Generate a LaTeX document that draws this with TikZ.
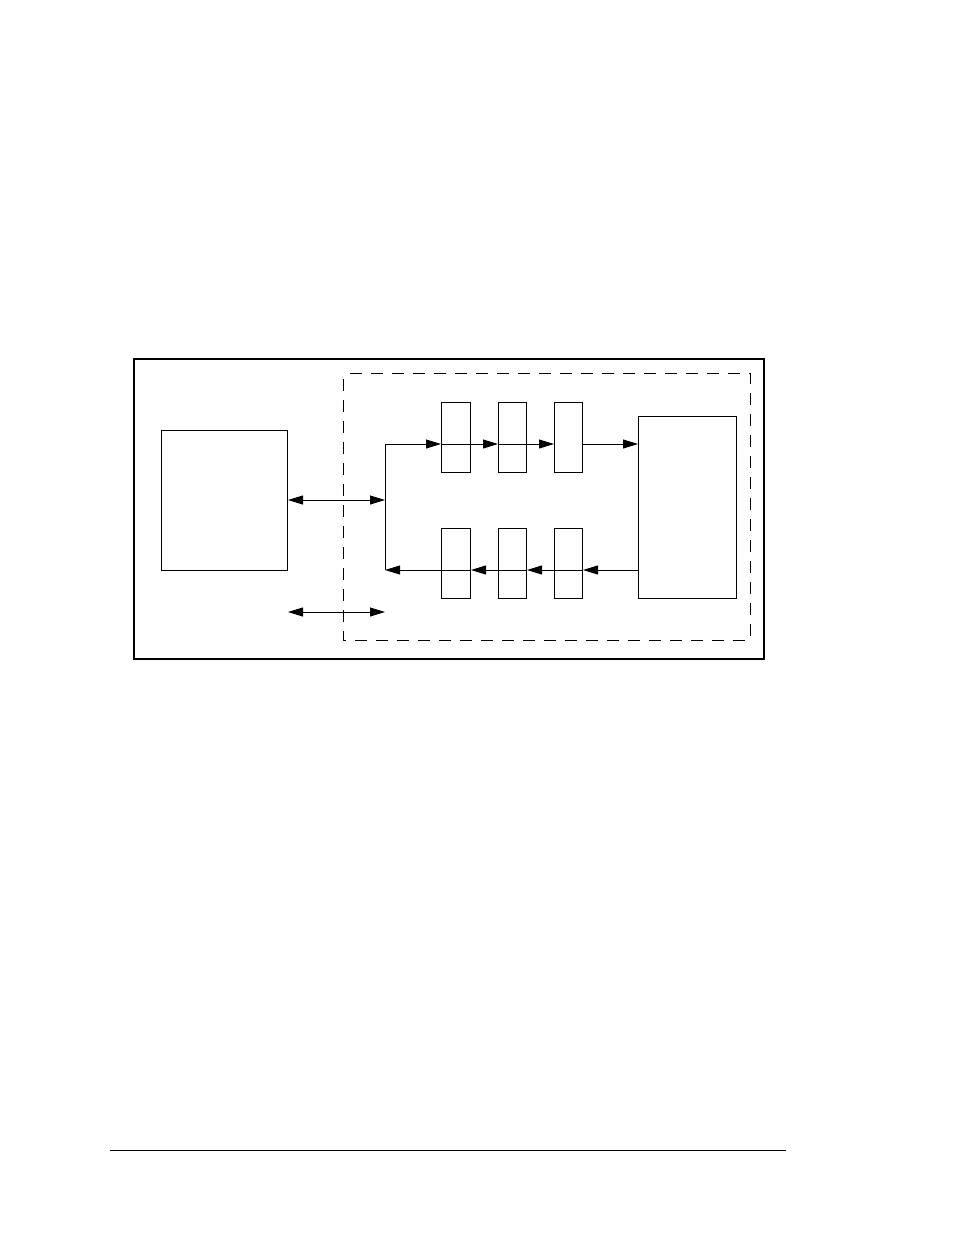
\documentclass[tikz,border=0pt]{standalone}
\usetikzlibrary{arrows.meta}
\begin{document}
\begin{tikzpicture}[x=1pt,y=-1pt,
  box/.style={draw,line width=1pt,rectangle,inner sep=0pt,anchor=north west},
  frame/.style={draw,line width=2pt},
  dashbox/.style={draw,line width=1pt,dash pattern=on 12pt off 9pt,dash phase=15pt},
  conn/.style={line width=1pt},
  arr/.style={conn,-{Triangle[length=15pt,width=9pt]}},
  darr/.style={conn,{Triangle[length=15pt,width=9pt]}-{Triangle[length=15pt,width=9pt]}}]
\useasboundingbox (0,0) rectangle (954,1235);
\draw[frame] (134,359) rectangle (764,659);
\draw[dashbox] (343,373) rectangle (750,640);
\node[box,minimum width=126pt,minimum height=140pt] (host) at (161,430) {};
\node[box,minimum width=98pt,minimum height=182pt] (dev) at (638,416) {};
\node[box,minimum width=29pt,minimum height=70pt] (t1) at (441,402) {};
\node[box,minimum width=28pt,minimum height=70pt] (t2) at (498,402) {};
\node[box,minimum width=28pt,minimum height=70pt] (t3) at (554,402) {};
\node[box,minimum width=29pt,minimum height=70pt] (b1) at (441,528) {};
\node[box,minimum width=28pt,minimum height=70pt] (b2) at (498,528) {};
\node[box,minimum width=28pt,minimum height=70pt] (b3) at (554,528) {};
\coordinate (jt) at (385,444);
\coordinate (jm) at (385,500);
\coordinate (jb) at (385,570);
\coordinate (la) at (288,612);
\coordinate (lb) at (385,612);
\coordinate (fl) at (110,1150);
\coordinate (fr) at (786,1150);
\draw[darr] (host.east |- jm) -- (jm);
\draw[conn] (jt) -- (jb);
\draw[arr] (jt) -- (t1.west |- jt);
\draw[arr] (t1.west |- jt) -- (t2.west |- jt);
\draw[arr] (t2.west |- jt) -- (t3.west |- jt);
\draw[arr] (t3.east |- jt) -- (dev.west |- jt);
\draw[arr] (dev.west |- jb) -- (b3.east |- jb);
\draw[arr] (b3.east |- jb) -- (b2.east |- jb);
\draw[arr] (b2.east |- jb) -- (b1.east |- jb);
\draw[arr] (b1.east |- jb) -- (jb);
\draw[darr] (la) -- (lb);
\draw[conn] (fl) -- (fr);
\end{tikzpicture}
\end{document}
